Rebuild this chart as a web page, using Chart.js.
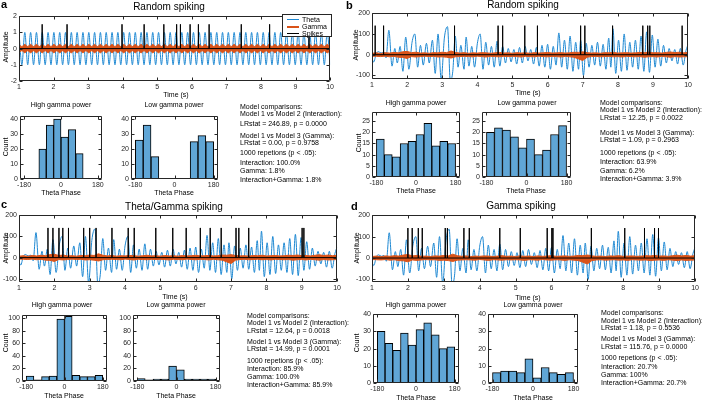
<!DOCTYPE html>
<html><head><meta charset="utf-8">
<script src="https://cdn.jsdelivr.net/npm/chart.js@4.4.1/dist/chart.umd.min.js"></script>
<style>
html,body{margin:0;padding:0;background:#fff}
body{width:702px;height:400px;position:relative;overflow:hidden;font-family:"Liberation Sans",Arial,sans-serif;color:#000}
canvas{position:absolute}
.tx{position:absolute;white-space:nowrap;line-height:1;color:#000;filter:grayscale(100%)}
.leg{position:absolute;background:#fff;border:1px solid #262626;box-sizing:border-box}
.leg div{position:absolute;white-space:nowrap;font-size:7px;line-height:1}
.leg span{position:absolute;height:0}
</style></head><body>
<canvas id="ta"></canvas><canvas id="tb"></canvas><canvas id="tc"></canvas><canvas id="td"></canvas>
<canvas id="ha1"></canvas><canvas id="ha2"></canvas><canvas id="hb1"></canvas><canvas id="hb2"></canvas>
<canvas id="hc1"></canvas><canvas id="hc2"></canvas><canvas id="hd1"></canvas><canvas id="hd2"></canvas>
<div class="leg" id="legA" style="left:282px;top:14px;width:50px;height:23px">
<span style="left:4px;top:4px;width:12px;border-top:1px solid #1E88D2"></span><div style="left:19px;top:1px">Theta</div>
<span style="left:4px;top:11px;width:12px;border-top:2px solid #D95319"></span><div style="left:19px;top:8px">Gamma</div>
<span style="left:4px;top:18px;width:12px;border-top:1px solid #000"></span><div style="left:19px;top:15px">Spikes</div>
</div>
<script>
// ---------------- DATA ----------------
const timeTicks = [1,2,3,4,5,6,7,8,9,10];
const ampTicksA = [-2,-1,0,1,2];
const ampTicksB = [-100,0,100,200];
const phaseTicks = [-180,0,180];
const binCenters = [-162,-126,-90,-54,-18,18,54,90,126,162];

// panel a: pure theta oscillation, extrema times and values
const thetaATimes = [1.000,1.084,1.168,1.252,1.336,1.421,1.505,1.589,1.673,1.757,1.841,1.925,2.009,2.093,2.178,2.262,2.346,2.430,2.514,2.598,2.682,2.766,2.850,2.935,3.019,3.103,3.187,3.271,3.355,3.439,3.523,3.607,3.692,3.776,3.860,3.944,4.028,4.112,4.196,4.280,4.364,4.449,4.533,4.617,4.701,4.785,4.869,4.953,5.037,5.121,5.206,5.290,5.374,5.458,5.542,5.626,5.710,5.794,5.879,5.963,6.047,6.131,6.215,6.299,6.383,6.467,6.551,6.636,6.720,6.804,6.888,6.972,7.056,7.140,7.224,7.308,7.393,7.477,7.561,7.645,7.729,7.813,7.897,7.981,8.065,8.150,8.234,8.318,8.402,8.486,8.570,8.654,8.738,8.822,8.907,8.991,9.075,9.159,9.243,9.327,9.411,9.495,9.579,9.664,9.748,9.832,9.916,10.000];
const thetaAValues = [1,-1,1,-1,1,-1,1,-1,1,-1,1,-1,1,-1,1,-1,1,-1,1,-1,1,-1,1,-1,1,-1,1,-1,1,-1,1,-1,1,-1,1,-1,1,-1,1,-1,1,-1,1,-1,1,-1,1,-1,1,-1,1,-1,1,-1,1,-1,1,-1,1,-1,1,-1,1,-1,1,-1,1,-1,1,-1,1,-1,1,-1,1,-1,1,-1,1,-1,1,-1,1,-1,1,-1,1,-1,1,-1,1,-1,1,-1,1,-1,1,-1,1,-1,1,-1,1,-1,1,-1,1,-1];
const gammaAEnvelope = [0.26,0.13,0.26,0.13,0.26,0.13,0.26,0.13,0.26,0.13,0.26,0.13,0.26,0.13,0.26,0.13,0.26,0.13,0.26,0.13,0.26,0.13,0.26,0.13,0.26,0.13,0.26,0.13,0.26,0.13,0.26,0.13,0.26,0.13,0.26,0.13,0.26,0.13,0.26,0.13,0.26,0.13,0.26,0.13,0.26,0.13,0.26,0.13,0.26,0.13,0.26,0.13,0.26,0.13,0.26,0.13,0.26,0.13,0.26,0.13,0.26,0.13,0.26,0.13,0.26,0.13,0.26,0.13,0.26,0.13,0.26,0.13,0.26,0.13,0.26,0.13,0.26,0.13,0.26,0.13,0.26,0.13,0.26,0.13,0.26,0.13,0.26,0.13,0.26,0.13,0.26,0.13,0.26,0.13,0.26,0.13,0.26,0.13,0.26,0.13,0.26,0.13,0.26,0.13,0.26,0.13,0.26,0.13];
const spikesA = [1.67,2.39,3.98,4.62,5.19,5.56,5.67,5.95,6.19,6.50,7.43,8.25,9.39];
const spikeHeightA = 1.5;

// panels b-d: broadband theta (same trace), extrema
const thetaBTimes  = [1.00,1.05,1.12,1.18,1.26,1.33,1.40,1.48,1.57,1.65,1.72,1.80,1.88,1.96,2.05,2.14,2.22,2.30,2.38,2.46,2.55,2.63,2.72,2.80,2.88,2.97,3.06,3.15,3.23,3.30,3.37,3.45,3.53,3.62,3.68,3.76,3.84,3.92,4.00,4.08,4.16,4.24,4.32,4.40,4.48,4.56,4.64,4.72,4.80,4.88,4.96,5.04,5.12,5.20,5.28,5.36,5.44,5.52,5.60,5.68,5.76,5.84,5.92,6.00,6.08,6.16,6.24,6.32,6.40,6.48,6.56,6.64,6.72,6.80,6.88,6.94,7.02,7.10,7.18,7.26,7.34,7.42,7.50,7.58,7.66,7.74,7.80,7.86,7.94,8.02,8.10,8.18,8.26,8.34,8.42,8.50,8.58,8.66,8.74,8.82,8.90,8.98,9.06,9.14,9.22,9.30,9.38,9.46,9.54,9.62,9.70,9.78,9.86,9.94,10.00];
const thetaBValues = [-20,-35,5,15,8,12,-15,118,-55,30,-40,40,-80,85,-70,60,100,-60,45,-50,55,-40,70,-90,100,-120,80,135,-125,-80,90,-60,45,-70,85,-55,40,-60,55,100,-70,60,-50,40,-60,65,-55,40,-40,30,-35,25,-45,35,-40,40,-30,25,-45,35,-55,45,-60,50,-70,40,-50,105,-60,70,-70,90,-80,60,-70,70,-100,55,-60,45,-50,60,-55,50,-70,80,-60,125,-90,70,-80,100,-75,60,-60,70,-70,90,-80,110,-85,95,-60,75,-55,45,-40,30,-30,25,-45,30,-50,20,50];
const gammaBTimes = [1.000,1.125,1.250,1.375,1.500,1.625,1.750,1.875,2.000,2.125,2.250,2.375,2.500,2.625,2.750,2.875,3.000,3.125,3.250,3.375,3.500,3.625,3.750,3.875,4.000,4.125,4.250,4.375,4.500,4.625,4.750,4.875,5.000,5.125,5.250,5.375,5.500,5.625,5.750,5.875,6.000,6.125,6.250,6.375,6.500,6.625,6.750,6.875,7.000,7.125,7.250,7.375,7.500,7.625,7.750,7.875,8.000,8.125,8.250,8.375,8.500,8.625,8.750,8.875,9.000,9.125,9.250,9.375,9.500,9.625,9.750,9.875,10.000];
const gammaBUpper = [7,9,6,10,8,11,9,14,16,10,12,8,9,7,10,9,12,10,18,11,8,10,7,9,8,10,9,7,9,11,8,9,7,10,8,9,7,10,8,9,11,8,9,10,8,9,12,11,14,10,8,9,7,10,9,11,8,9,10,8,9,11,10,12,9,10,8,11,13,10,12,9,11];
const gammaBLower = [-7,-8,-9,-7,-10,-8,-12,-13,-18,-9,-11,-9,-7,-9,-8,-11,-10,-12,-16,-10,-9,-8,-9,-10,-7,-9,-11,-8,-9,-10,-8,-9,-8,-9,-11,-8,-9,-10,-7,-9,-10,-8,-9,-11,-8,-10,-12,-20,-28,-12,-9,-8,-10,-9,-8,-10,-9,-11,-8,-9,-10,-9,-12,-10,-9,-11,-8,-10,-12,-9,-11,-10,-9];
const spikesB = [1.09,1.33,3.35,4.59,4.72,5.35,5.71,6.94,7.06,7.85,8.71,8.85,8.91,9.83];
const spikesC = [1.82,1.96,2.13,2.24,2.40,2.83,3.00,3.18,3.63,4.09,4.26,4.87,5.35,5.73,6.13,6.41,6.72,7.14,7.22,7.50,9.01,9.06];
const spikesD = [2.00,2.12,2.29,2.40,3.04,3.10,3.56,3.71,4.56,5.13,5.88,6.01,6.04,7.11,8.04,8.59,8.87,8.98];
const spikeHeightB = 140;

// histograms (counts per theta-phase bin)
const histAHigh = [0,0,20,36,40,28,33,17,0,0];
const histALow  = [26,36,15,0,0,0,0,25,29,25];
const histBHigh = [17,10,9,15,16,19,24,14,16,15];
const histBLow  = [20,22,21,18,13,17,10,12,19,23];
const histCHigh = [8,2,7,8,99,103,9,7,7,9];
const histCLow  = [4,2,3,3,24,18,3,3,3,3];
const histDHigh = [30,23,19,29,22,31,35,28,20,21];
const histDLow  = [6,7,7,6,14,3,9,6,5,6];
const countTicksA = [0,10,20,30,40];
const countTicksB = [0,5,10,15,20,25];
const countTicksC = [0,20,40,60,80,100];
const countTicksD = [0,10,20,30,40];

const textA = ["Model comparisons:","Model 1 vs Model 2 (Interaction):","LRstat = 246.89, p = 0.0000","Model 1 vs Model 3 (Gamma):","LRstat = 0.00, p = 0.9758","1000 repetions (p < .05):","Interaction: 100.0%","Gamma: 1.8%","Interaction+Gamma: 1.8%"];
const textB = ["Model comparisons:","Model 1 vs Model 2 (Interaction):","LRstat = 12.25, p = 0.0022","Model 1 vs Model 3 (Gamma):","LRstat = 1.09, p = 0.2963","1000 repetions (p < .05):","Interaction: 63.9%","Gamma: 6.2%","Interaction+Gamma: 3.9%"];
const textC = ["Model comparisons:","Model 1 vs Model 2 (Interaction):","LRstat = 12.64, p = 0.0018","Model 1 vs Model 3 (Gamma):","LRstat = 14.99, p = 0.0001","1000 repetions (p < .05):","Interaction: 85.9%","Gamma: 100.0%","Interaction+Gamma: 85.9%"];
const textD = ["Model comparisons:","Model 1 vs Model 2 (Interaction):","LRstat = 1.18, p = 0.5536","Model 1 vs Model 3 (Gamma):","LRstat = 115.76, p = 0.0000","1000 repetions (p < .05):","Interaction: 20.7%","Gamma: 100%","Interaction+Gamma: 20.7%"];

// ---------------- STYLE / LAYOUT ----------------
const BLUE = '#1E88D2', ORANGE = '#D95319', BAR = 'rgb(96,166,214)', AXC = '#262626';
const FONT = '"Liberation Sans", Arial, sans-serif';
const PAD = {l:24, r:4, t:4, b:11};

function addText(str, x, y, size, anchor, extra) {
  const d = document.createElement('div');
  d.className = 'tx'; d.textContent = str;
  d.style.fontSize = size + 'px';
  d.style.top = Math.round(y - size*0.55) + 'px';
  let tr = '';
  d.style.left = x + 'px';
  if (anchor === 'center') tr = 'translateX(-50%)';
  if (extra && extra.rotate) { d.style.top = y+'px'; tr = 'translate(-50%,-50%) rotate(-90deg)'; }
  if (extra && extra.bold) d.style.fontWeight = 'bold';
  d.style.transform = tr;
  document.body.appendChild(d);
}

const boxPlugin = {
  id: 'box',
  afterDatasetsDraw(chart) {
    const {ctx, chartArea: a, scales} = chart;
    ctx.save();
    ctx.strokeStyle = AXC; ctx.lineWidth = 1;
    const L = Math.round(a.left)+0.5, T = Math.round(a.top)+0.5, R = Math.round(a.right)-0.5, B = Math.round(a.bottom)-0.5;
    ctx.beginPath(); ctx.rect(L, T, R-L, B-T); ctx.stroke();
    const tl = 3;
    ctx.beginPath();
    scales.x.ticks.forEach(t => { const p = Math.round(scales.x.getPixelForValue(t.value))+0.5; ctx.moveTo(p,B); ctx.lineTo(p,B-tl); ctx.moveTo(p,T); ctx.lineTo(p,T+tl); });
    scales.y.ticks.forEach(t => { const p = Math.round(scales.y.getPixelForValue(t.value))+0.5; ctx.moveTo(L,p); ctx.lineTo(L+tl,p); ctx.moveTo(R,p); ctx.lineTo(R-tl,p); });
    ctx.stroke();
    ctx.restore();
  }
};

function setupCanvas(id, r) {
  const c = document.getElementById(id);
  const w = r[2]-r[0]+PAD.l+PAD.r, h = r[3]-r[1]+PAD.t+PAD.b;
  c.width = w; c.height = h;
  c.style.left = (r[0]-PAD.l)+'px'; c.style.top = (r[1]-PAD.t)+'px';
  c.style.width = w+'px'; c.style.height = h+'px';
  return c;
}

function scaleOpts(min, max, ticks, isX) {
  return {
    type: 'linear', min, max, position: isX ? 'bottom' : 'left', offset:false,
    grid: {display:false, drawTicks:false, offset:false}, border: {display:false},
    afterBuildTicks: s => { s.ticks = ticks.map(v => ({value:v})); },
    afterFit: s => { if (isX) s.height = PAD.b; else s.width = PAD.l; },
    ticks: {font:{family:FONT, size:7}, color:AXC, padding: 2, maxRotation:0, autoSkip:false, callback: v => String(v)}
  };
}

function baseOptions(xs, ys) {
  return {
    responsive:false, animation:false, devicePixelRatio:1,
    layout:{padding:{top:PAD.t, right:PAD.r, left:0, bottom:0}},
    plugins:{legend:{display:false}, tooltip:{enabled:false}},
    elements:{point:{radius:0}},
    scales:{x:xs, y:ys}
  };
}

function pts(xs, ys) { return xs.map((x,i) => ({x, y: ys[i]})); }
function spikeTrain(times, h) {
  const p = [{x:1,y:0}];
  times.forEach(t => { p.push({x:t,y:0},{x:t,y:h},{x:t,y:0}); });
  p.push({x:10,y:0});
  return p;
}

function tsChart(id, rect, yMin, yMax, yTicks, thetaT, thetaV, gT, gUp, gLo, spikes, h, gTension) {
  setupCanvas(id, rect);
  new Chart(document.getElementById(id), {
    type:'line',
    data:{datasets:[
      {data: spikeTrain(spikes, h), borderColor:'#000', borderWidth:1, tension:0},
      {data: pts(gT, gUp), borderColor:ORANGE, backgroundColor:ORANGE, borderWidth:1, fill:'+1', tension:gTension},
      {data: pts(gT, gLo), borderColor:ORANGE, borderWidth:1, fill:false, tension:gTension},
      {data: pts(thetaT, thetaV), borderColor:BLUE, borderWidth:1, cubicInterpolationMode:'monotone'}
    ]},
    options: baseOptions(scaleOpts(1,10,timeTicks,true), scaleOpts(yMin,yMax,yTicks,false)),
    plugins:[boxPlugin]
  });
}

function histChart(id, rect, yMax, yTicks, counts) {
  setupCanvas(id, rect);
  new Chart(document.getElementById(id), {
    type:'bar',
    data:{datasets:[{data: pts(binCenters, counts), backgroundColor:BAR, borderColor:'#000',
      borderWidth: c => (c.raw && c.raw.y > 0) ? 1 : 0, borderSkipped:false,
      barPercentage:1, categoryPercentage:1}]},
    options: baseOptions(scaleOpts(-200,200,phaseTicks,true), scaleOpts(0,yMax,yTicks,false)),
    plugins:[boxPlugin]
  });
}

// ---------------- BUILD ----------------
const gammaALower = gammaAEnvelope.map(v => -v);
tsChart('ta', [19,14,332,81], -2, 2, ampTicksA, thetaATimes, thetaAValues, thetaATimes, gammaAEnvelope, gammaALower, spikesA, spikeHeightA, 0.4);
tsChart('tb', [372,11,690,79], -117, 200, ampTicksB, thetaBTimes, thetaBValues, gammaBTimes, gammaBUpper, gammaBLower, spikesB, spikeHeightB, 0);
tsChart('tc', [19,213,339,282], -115, 200, ampTicksB, thetaBTimes, thetaBValues, gammaBTimes, gammaBUpper, gammaBLower, spikesC, spikeHeightB, 0);
tsChart('td', [372,213,697,282], -112, 200, ampTicksB, thetaBTimes, thetaBValues, gammaBTimes, gammaBUpper, gammaBLower, spikesD, spikeHeightB, 0);

histChart('ha1', [20,114,102,179], 42, countTicksA, histAHigh);
histChart('ha2', [131,114,218,179], 42, countTicksA, histALow);
histChart('hb1', [372,110,460,177], 29, countTicksB, histBHigh);
histChart('hb2', [482,110,571,177], 29, countTicksB, histBLow);
histChart('hc1', [22,313,107,381], 105, countTicksC, histCHigh);
histChart('hc2', [133,313,220,381], 105, countTicksC, histCLow);
histChart('hd1', [373,312,459,383], 40, countTicksD, histDHigh);
histChart('hd2', [488,312,578,383], 40, countTicksD, histDLow);

// titles & labels
addText('a', 1, 5, 11, 'left', {bold:true});
addText('b', 346, 6, 11, 'left', {bold:true});
addText('c', 1, 205, 11, 'left', {bold:true});
addText('d', 351, 207, 11, 'left', {bold:true});
addText('Random spiking', 169, 7, 10, 'center');
addText('Random spiking', 523, 5, 10, 'center');
addText('Theta/Gamma spiking', 174, 207, 10, 'center');
addText('Gamma spiking', 521, 206, 10, 'center');
[[5,47],[355,45],[5,248],[356,248]].forEach(p => addText('Amplitude', p[0], p[1], 7, 'center', {rotate:true}));
[[176,95],[528,93],[175,297],[528,298]].forEach(p => addText('Time (s)', p[0], p[1], 7, 'center'));
[[5,147],[358,143],[5,343],[356,343]].forEach(p => addText('Count', p[0], p[1], 7, 'center', {rotate:true}));
[[61,193],[174,193],[416,190.5],[526,190.5],[64,396],[176,396],[416,398],[533,398]].forEach(p => addText('Theta Phase', p[0], p[1], 7, 'center'));
[[61,105,'High gamma power'],[174,105,'Low gamma power'],[416,102.5,'High gamma power'],[527,102.5,'Low gamma power'],
 [62,305,'High gamma power'],[176,305,'Low gamma power'],[416,305,'High gamma power'],[533,305,'Low gamma power']].forEach(p => addText(p[2], p[0], p[1], 7, 'center'));

function textBlock(lines, x, ys) { lines.forEach((s,i) => addText(s, x, ys[i], 7, 'left')); }
textBlock(textA, 240, [106.7,114.3,124,135.7,143.3,153.3,162.7,171,180]);
textBlock(textB, 600, [102.7,110,118.3,132.7,140,153.3,161.7,170.7,179.3]);
textBlock(textC, 247, [316,323,331,342,349,361,369,377,385]);
textBlock(textD, 601, [313,321,328.3,339.3,346.7,358.3,366.7,375,383.3]);
</script>
</body></html>
